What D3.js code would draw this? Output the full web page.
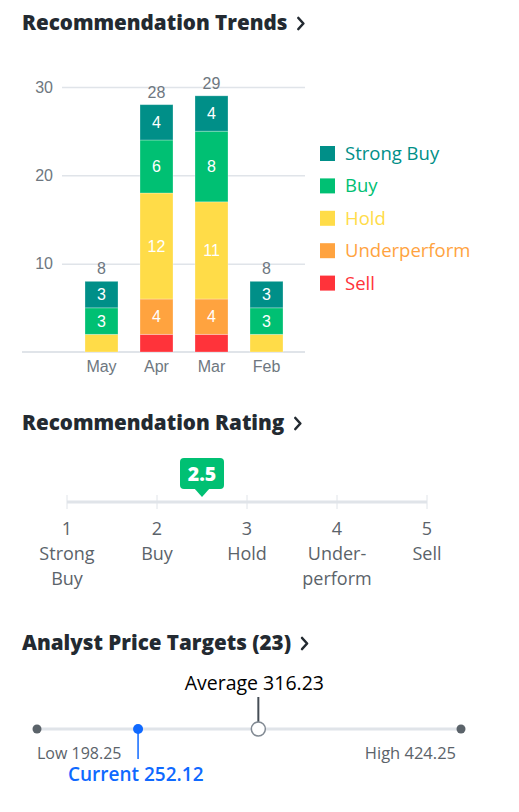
<!DOCTYPE html>
<html><head><meta charset="utf-8">
<script src="https://cdn.jsdelivr.net/npm/d3@7"></script>
<style>
html,body{margin:0;padding:0;background:#fff;}
svg{display:block;}
</style></head>
<body>
<svg id="c" width="519" height="812"></svg>
<script>
// ---- data ----
const months = ["May", "Apr", "Mar", "Feb"];
const ratingKeys = ["sell", "underperform", "hold", "buy", "strongBuy"];
const ratingNames = ["Sell", "Underperform", "Hold", "Buy", "Strong Buy"];
const strongBuy = [3, 4, 4, 3];
const buy = [3, 6, 8, 3];
const hold = [2, 12, 11, 2];
const underperform = [0, 4, 4, 0];
const sell = [0, 2, 2, 0];
const yTicks = [10, 20, 30];

const scaleValues = [1, 2, 3, 4, 5];
const scaleLine1 = ["Strong", "Buy", "Hold", "Under-", "Sell"];
const scaleLine2 = ["Buy", "", "", "perform", ""];
const averageRating = 2.5;

const priceTargetCount = 23;
const lowTarget = 198.25;
const highTarget = 424.25;
const averageTarget = 316.23;
const currentPrice = 252.12;

// ---- styles ----
const colors = {strongBuy:"#008f88", buy:"#00c073", hold:"#ffdc48", underperform:"#ffa33f", sell:"#ff333a"};
const titleFont = "'Open Sans', Lato, sans-serif";
const textFont = "'Open Sans', 'Noto Sans', sans-serif";
const axisFont = "'Liberation Sans', Arial, sans-serif";

const svg = d3.select("#c");

function title(txt, y) {
  const t = svg.append("text").attr("x", 22).attr("y", y)
    .attr("font-family", titleFont).attr("font-weight", 800).attr("font-size", 20.6)
    .attr("fill", "#232a31").text(txt);
  const w = t.node().getComputedTextLength();
  svg.append("path")
    .attr("d", `M${22 + w + 11},${y - 12} l5,5.5 l-5,5.5`)
    .attr("fill", "none").attr("stroke", "#232a31").attr("stroke-width", 2.6)
    .attr("stroke-linecap", "round").attr("stroke-linejoin", "round");
}

// ================= Recommendation Trends =================
title("Recommendation Trends", 30);

const rows = months.map((m, i) => ({month: m, strongBuy: strongBuy[i], buy: buy[i], hold: hold[i], underperform: underperform[i], sell: sell[i]}));
const x = d3.scaleBand().domain(months).range([74, 294]).paddingInner(0.4).paddingOuter(0.2);
const y = d3.scaleLinear().domain([0, 30]).range([352, 87]);

// gridlines + y labels
const yAxis = svg.append("g").attr("transform", "translate(305,0)")
  .call(d3.axisLeft(y).tickValues(yTicks).tickSize(243).tickPadding(9));
yAxis.select(".domain").remove();
yAxis.selectAll(".tick line").attr("stroke", "#e0e4e9").attr("stroke-width", 1.5);
yAxis.selectAll(".tick text").attr("font-family", axisFont).attr("font-size", 16).attr("fill", "#6e7780");

// baseline
svg.append("line").attr("x1", 22).attr("x2", 305).attr("y1", y(0)).attr("y2", y(0))
  .attr("stroke", "#e0e4e9").attr("stroke-width", 2);

// x labels
const xAxis = svg.append("g").attr("transform", `translate(0,${y(0)})`)
  .call(d3.axisBottom(x).tickSize(0).tickPadding(9));
xAxis.select(".domain").remove();
xAxis.selectAll(".tick text").attr("font-family", axisFont).attr("font-size", 16).attr("fill", "#6e7780");

const stack = d3.stack().keys(ratingKeys)(rows);
const layers = svg.append("g").selectAll("g").data(stack).join("g").attr("fill", d => colors[d.key]);
layers.selectAll("rect").data(d => d.filter(s => s[1] > s[0])).join("rect")
  .attr("x", d => x(d.data.month))
  .attr("width", x.bandwidth())
  .attr("y", d => y(d[1]))
  .attr("height", d => y(d[0]) - y(d[1]))
  .attr("stroke", "rgba(255,255,255,0.35)").attr("stroke-width", 0.8);

layers.selectAll("text").data(d => d.filter(s => s[1] - s[0] > 2)).join("text")
  .attr("x", d => x(d.data.month) + x.bandwidth() / 2)
  .attr("y", d => (y(d[0]) + y(d[1])) / 2)
  .attr("dy", "0.36em").attr("text-anchor", "middle")
  .attr("font-family", axisFont).attr("font-size", 16).attr("fill", "#fff")
  .text(d => d[1] - d[0]);

// totals
svg.append("g").selectAll("text").data(rows).join("text")
  .attr("x", d => x(d.month) + x.bandwidth() / 2)
  .attr("y", d => y(d.strongBuy + d.buy + d.hold + d.underperform + d.sell) - 7)
  .attr("text-anchor", "middle")
  .attr("font-family", axisFont).attr("font-size", 16).attr("fill", "#6e7780")
  .text(d => d.strongBuy + d.buy + d.hold + d.underperform + d.sell);

// legend
const legendOrder = ratingKeys.slice().reverse();
const legendNames = ratingNames.slice().reverse();
const lg = svg.append("g").selectAll("g").data(legendOrder).join("g")
  .attr("transform", (d, i) => `translate(320,${153.5 + i * 32.4})`);
lg.append("rect").attr("x", 0).attr("y", -7.5).attr("width", 15).attr("height", 15).attr("fill", d => colors[d]);
lg.append("text").attr("x", 25).attr("dy", "0.35em")
  .attr("font-family", textFont).attr("font-size", 18.5).attr("fill", d => colors[d])
  .text((d, i) => legendNames[i]);

// ================= Recommendation Rating =================
title("Recommendation Rating", 430);

const rs = d3.scaleLinear().domain([1, 5]).range([67, 427]);
const scaleY = 502;
svg.append("line").attr("x1", rs(1)).attr("x2", rs(5)).attr("y1", scaleY).attr("y2", scaleY)
  .attr("stroke", "#e0e4e9").attr("stroke-width", 3);
svg.append("g").selectAll("line").data(scaleValues).join("line")
  .attr("x1", d => rs(d)).attr("x2", d => rs(d)).attr("y1", scaleY - 7).attr("y2", scaleY + 7)
  .attr("stroke", "#e0e4e9").attr("stroke-width", 1);

const sl = svg.append("g").selectAll("text").data(scaleValues).join("text")
  .attr("text-anchor", "middle").attr("font-family", textFont).attr("font-size", 18).attr("fill", "#5b636a");
sl.append("tspan").attr("x", d => rs(d)).attr("y", 535).text(d => d);
sl.append("tspan").attr("x", d => rs(d)).attr("y", 560).text((d, i) => scaleLine1[i]);
sl.append("tspan").attr("x", d => rs(d)).attr("y", 585).text((d, i) => scaleLine2[i]);

// badge
const bx = rs(averageRating);
svg.append("rect").attr("x", bx - 22).attr("y", 458).attr("width", 44).attr("height", 31).attr("rx", 4).attr("fill", "#00c073");
svg.append("path").attr("d", `M${bx - 8},488 L${bx + 8},488 L${bx},497 Z`).attr("fill", "#00c073");
svg.append("text").attr("x", bx).attr("y", 474).attr("dy", "0.36em").attr("text-anchor", "middle")
  .attr("font-family", titleFont).attr("font-weight", 800).attr("font-size", 19.5).attr("fill", "#fff")
  .text(averageRating);

// ================= Analyst Price Targets =================
title(`Analyst Price Targets (${priceTargetCount})`, 650);

const ps = d3.scaleLinear().domain([lowTarget, highTarget]).range([37, 461]);
const py = 729;
svg.append("line").attr("x1", ps(lowTarget)).attr("x2", ps(highTarget)).attr("y1", py).attr("y2", py)
  .attr("stroke", "#e0e4e9").attr("stroke-width", 3);

// average
svg.append("line").attr("x1", ps(averageTarget)).attr("x2", ps(averageTarget)).attr("y1", 697).attr("y2", 722)
  .attr("stroke", "#464e56").attr("stroke-width", 2);
svg.append("circle").attr("cx", ps(averageTarget)).attr("cy", py).attr("r", 7)
  .attr("fill", "#fff").attr("stroke", "#828a93").attr("stroke-width", 1.5);
svg.append("text").attr("x", ps(averageTarget) - 4).attr("y", 683).attr("dy", "0.36em").attr("text-anchor", "middle")
  .attr("font-family", textFont).attr("font-size", 19.5).attr("fill", "#000")
  .text(`Average ${averageTarget.toFixed(2)}`);

// low / high
svg.append("g").selectAll("circle").data([lowTarget, highTarget]).join("circle")
  .attr("cx", d => ps(d)).attr("cy", py).attr("r", 4.5).attr("fill", "#5b636a");
svg.append("text").attr("x", ps(lowTarget)).attr("y", 753).attr("dy", "0.36em")
  .attr("font-family", textFont).attr("font-size", 16).attr("fill", "#5b636a")
  .text(`Low ${lowTarget.toFixed(2)}`);
svg.append("text").attr("x", ps(highTarget) - 5).attr("y", 753).attr("dy", "0.36em").attr("text-anchor", "end")
  .attr("font-family", textFont).attr("font-size", 16.5).attr("fill", "#5b636a")
  .text(`High ${highTarget.toFixed(2)}`);

// current
svg.append("line").attr("x1", ps(currentPrice)).attr("x2", ps(currentPrice)).attr("y1", py).attr("y2", 759)
  .attr("stroke", "#0f69ff").attr("stroke-width", 1.5);
svg.append("circle").attr("cx", ps(currentPrice)).attr("cy", py).attr("r", 5).attr("fill", "#0f69ff");
svg.append("text").attr("x", 68).attr("y", 774).attr("dy", "0.36em")
  .attr("font-family", textFont).attr("font-weight", 600).attr("font-size", 19).attr("fill", "#0f69ff")
  .text(`Current ${currentPrice.toFixed(2)}`);
</script>
</body></html>
